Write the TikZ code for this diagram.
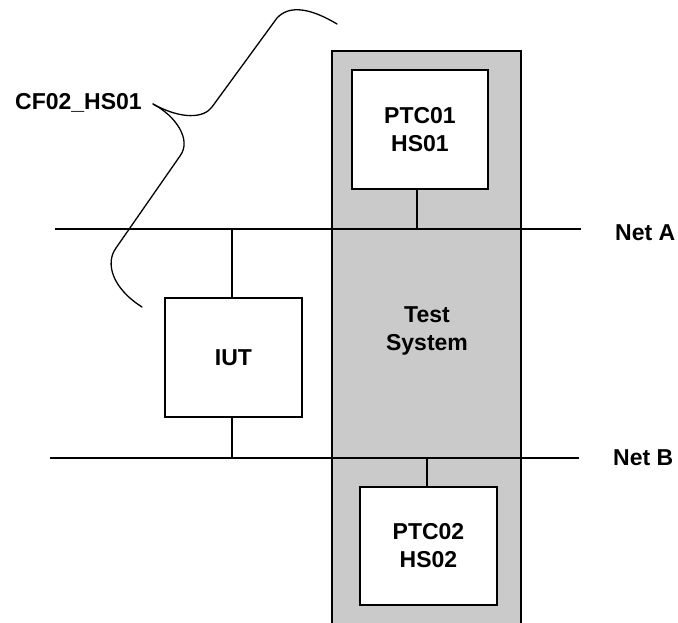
\documentclass[tikz,border=0pt]{standalone}
\usepackage{fontspec}
\setmainfont{Liberation Sans}
\definecolor{tsgray}{RGB}{202,202,202}
\begin{document}
\begin{tikzpicture}[x=1pt,y=-1pt,
  lbl/.style={font=\fontsize{23}{28}\selectfont\bfseries, inner sep=0pt, align=center},
  box/.style={draw, line width=1.4pt, fill=white, font=\fontsize{23}{28}\selectfont\bfseries, align=center, inner sep=0pt},
  wire/.style={line width=1.3pt},
  brace/.style={line width=1.3pt, line cap=round}]
\useasboundingbox (0,0) rectangle (678,623);
% test system column
\fill[tsgray] (332,51) rectangle (521,623);
\draw[line width=1.4pt] (332,623) -- (332,51) -- (521,51) -- (521,623);
\node[lbl] (ts) at (427,331) {Test\\System};
% nets
\coordinate (naL) at (55,229);
\coordinate (naR) at (581,229);
\coordinate (nbL) at (50,458);
\coordinate (nbR) at (579,458);
\draw[wire] (naL) -- (naR);
\draw[wire] (nbL) -- (nbR);
\node[lbl, anchor=west] (neta) at (615,233) {Net A};
\node[lbl, anchor=west] (netb) at (613,458) {Net B};
% boxes
\node[box, minimum width=136, minimum height=119] (p1) at (420,129.5) {PTC01\\HS01};
\node[box, minimum width=137, minimum height=119] (iut) at (233.5,357.5) {IUT};
\node[box, minimum width=137, minimum height=118] (p2) at (428.5,546) {PTC02\\HS02};
% connectors
\draw[wire] ([xshift=-3pt]p1.south) -- ([xshift=-3pt]p1.south |- naL);
\draw[wire] ([xshift=-1.5pt]iut.north) -- ([xshift=-1.5pt]iut.north |- naL);
\draw[wire] ([xshift=-1.5pt]iut.south) -- ([xshift=-1.5pt]iut.south |- nbL);
\draw[wire] ([xshift=-1.5pt]p2.north) -- ([xshift=-1.5pt]p2.north |- nbL);
% brace label
\node[lbl, anchor=west] (cf) at (15,103) {CF02\_HS01};
\coordinate (tip) at (153,104);
\draw[brace] (337,24) .. controls (312,9) and (290,4) .. (277,18)
  -- (212,107) .. controls (204,118) and (182,120) .. (tip);
\draw[brace] (tip) .. controls (176,116) and (192,140) .. (180,156)
  -- (116,248) .. controls (105,263) and (112,288) .. (142,307);
\end{tikzpicture}
\end{document}
